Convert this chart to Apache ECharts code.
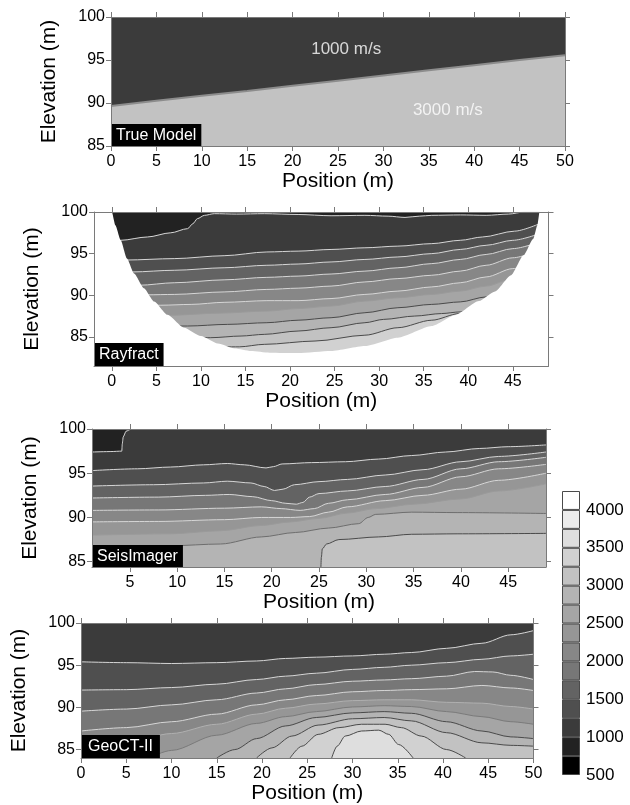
<!DOCTYPE html>
<html>
<head>
<meta charset="utf-8">
<script src="https://cdn.jsdelivr.net/npm/echarts@6/dist/echarts.min.js"></script>
<style>
html,body{margin:0;padding:0;background:#fff;}
#chart{width:630px;height:805px;}
</style>
</head>
<body>
<div id="chart"></div>
<script>
// ---------- colour scale (m/s) ----------
const bandLevels = [500,750,1000,1250,1500,1750,2000,2250,2500,2750,3000,3250,3500,3750,4000];
const bandColors = ['#000000','#222222','#3b3b3b','#4f4f4f','#636363','#777777','#878787','#969696','#a5a5a5','#b4b4b4','#c2c2c2','#d1d1d1','#dedede','#ececec','#ffffff'];
const bandStep = 250;
const cbarLabels = [500,1000,1500,2000,2500,3000,3500,4000];

// ---------- tick labels ----------
const ticks0to50 = [0,5,10,15,20,25,30,35,40,45,50];
const ticks0to45 = [0,5,10,15,20,25,30,35,40,45];
const ticks5to45 = [5,10,15,20,25,30,35,40,45];
const elevTicks = [85,90,95,100];

// ---------- True Model ----------
const tmPos = [0,5,10,15,20,25,30,35,40,45,50];
const tmInterface = [89.65,90.25,90.85,91.4,92.0,92.6,93.2,93.8,94.4,95.0,95.55];
const tmVelTop = 1000, tmVelBottom = 3000;
const tmLabelPos = [[25.9,96.2],[37.1,89.1]];
const tmLabelText = ['1000 m/s','3000 m/s'];

// ---------- Rayfract (contours: [position, elevation]) ----------
const rfCoverage = [[0,100],[48,100]];
const rfBoundary = [[-2,100],[0,100],[0.4,98.4],[1.0,96.6],[1.7,94.4],[2.5,92.6],[3.6,90.85],[4.75,89.25],[6.25,87.65],[8.1,86.1],[10.0,85.1],[11.9,84.2],[13.8,83.6],[15.6,83.3],[17.7,83.1],[20.9,83.05],[24.6,83.3],[28.4,83.9],[32.1,84.9],[35.9,86.3],[38.5,87.6],[41.2,89.3],[43,90.45],[44.8,92.4],[46.2,94.8],[47.3,96.8],[47.75,98.4],[48.0,100],[49,100]];
const rf1000 = [[0,96.6],[1.0,96.6],[4.0,97.0],[6.6,97.5],[8.5,98.0],[9.1,98.6],[9.6,99.2],[10.4,99.6],[11.5,99.8],[14,99.75],[17.1,99.8],[20.9,99.7],[24.6,99.55],[28.4,99.6],[31,99.5],[32.9,99.35],[34.5,99.5],[35.9,99.6],[39.1,99.65],[42,99.6],[44.5,99.75],[46.3,100],[48,100]];
const rf1250 = [[0,94.2],[1.56,94.23],[7.0,94.4],[12.6,94.75],[17.4,95.2],[20.9,95.3],[24.6,95.5],[28.4,95.7],[32.1,95.9],[35.9,96.2],[39.1,96.6],[41.6,97.0],[45.2,97.7],[48,98.6]];
const rf1500 = [[0,92.8],[2.3,92.8],[7.0,93.0],[12.6,93.3],[17.4,93.6],[20.9,93.75],[24.6,94.0],[28.4,94.3],[32.1,94.6],[35.9,95.0],[39.1,95.5],[42,96.0],[45,96.6],[48,97.4]];
const rf1750 = [[0,91.2],[3.06,91.2],[7.0,91.5],[12.6,91.85],[17.4,92.15],[20.9,92.3],[24.6,92.55],[28.4,92.9],[32.1,93.3],[35.9,93.8],[39.1,94.3],[42,94.9],[45,95.6],[48,96.4]];
const rf2000 = [[0,90.05],[4.0,90.05],[7.0,90.1],[12.6,90.4],[17.4,90.7],[20.9,90.85],[24.6,91.1],[28.4,91.6],[32.1,92.0],[35.9,92.4],[39.1,92.9],[42,93.6],[45,94.5],[48,95.4]];
const rf2250 = [[0,88.8],[5.5,88.8],[8.9,88.9],[12.6,89.15],[17.4,89.35],[20.9,89.35],[24.6,89.6],[28.4,90.1],[32.1,90.5],[35.9,91.0],[39.1,91.5],[42,92.2],[45,93.2],[48,94.3]];
const rf2500 = [[0,87.6],[6.6,87.6],[12,87.85],[17.4,88.1],[20.9,88.4],[24.6,88.7],[28.4,89.3],[32.1,89.7],[35.9,90.1],[39.1,90.5],[42,91.1],[45,92.0],[48,93.0]];
const rf2750 = [[0,86.3],[8.5,86.3],[13,86.5],[17.4,86.7],[20.9,87.0],[24.6,87.3],[28.4,87.9],[32.1,88.5],[35.9,88.9],[39.1,89.2],[42,89.8],[45,90.6],[48,91.5]];
const rf3000 = [[0,84.9],[11.1,84.9],[14.5,85.1],[17.1,85.3],[20.9,85.7],[24.6,86.1],[28.4,86.7],[30.5,87.1],[34,87.5],[37,87.8],[39.1,88.0],[42,88.6],[48,89.5]];
const rf3250 = [[0,83.8],[14.3,83.8],[17.1,84.1],[22.8,84.5],[28.4,85.2],[32.1,86.1],[35.9,87.0],[39,87.8],[48,88.8]];

// ---------- SeisImager ----------
const siPocket1000 = [[1,97.4],[3,97.45],[4.15,97.5],[4.2,98.3],[4.3,99.1],[4.6,99.75],[5.1,100]];
const si1250 = [[1,95.3],[5.8,95.5],[9.3,95.7],[12.8,95.95],[15.3,96.1],[17.1,95.95],[19.4,95.6],[20.2,95.75],[21.1,96.05],[24.2,96.2],[27.8,96.3],[31.3,96.6],[34.8,97.0],[38.4,97.4],[42,97.8],[45,98.0],[49,98.2]];
const si1500 = [[1,93.55],[7.5,93.7],[12.8,93.9],[15.3,94.1],[17.8,93.9],[19.2,93.5],[20.3,93.05],[21.2,93.2],[22.4,93.7],[25,94.05],[28,94.3],[32,94.8],[36,95.4],[40,96.3],[44,96.9],[49,97.4]];
const si1750 = [[1,92.2],[8,92.3],[13,92.5],[15.5,92.6],[18,92.35],[20,91.9],[21.5,91.6],[22.6,91.5],[23.3,91.7],[24,92.3],[25,92.7],[28,93.0],[32,93.5],[36,94.3],[40,95.5],[44,96.3],[49,96.8]];
const si2000 = [[1,90.8],[8,90.85],[15,91.05],[18.9,91.2],[21,91.0],[23,90.8],[24.5,91.0],[26,91.6],[28,92.0],[32,92.6],[36,93.4],[40,94.6],[44,95.5],[49,96.0]];
const si2250 = [[1,89.5],[8,89.55],[15,89.75],[18.9,90.0],[22,90.0],[24,90.1],[26,90.6],[28,91.2],[32,91.9],[36,92.5],[40,93.2],[44,94.2],[49,95.0]];
const si2500 = [[1,88.0],[9.3,88.15],[14.6,88.5],[18.9,89.1],[22,89.5],[25,89.9],[28,90.5],[31,91.0],[35,91.5],[40,92.1],[44,93.0],[49,93.8]];
const si2750 = [[1,86.75],[9.3,86.8],[14.6,87.0],[18.9,87.8],[22.5,88.3],[26,88.8],[29.2,89.3],[30.2,90.0],[31,90.35],[34.8,90.6],[39.6,90.55],[49,90.45]];
const si3000 = [[25.2,84.3],[25.25,85.5],[25.35,86.45],[25.8,87.0],[27.1,87.5],[31.3,87.8],[34.8,88.1],[39.6,88.15],[49,88.2]];

// ---------- GeoCT-II ----------
const gc1250 = [[0,95.4],[5,95.3],[10,95.2],[15,95.3],[19.4,95.5],[22.6,95.8],[26,95.95],[30,96.1],[33.5,96.3],[36.5,96.5],[40.4,97.0],[44.3,97.6],[47.5,98.6],[50,99.1]];
const gc1500 = [[0,92.05],[5,92.1],[10,92.35],[15,92.75],[19.4,93.3],[22.6,93.7],[26,94.05],[30,94.5],[33.5,94.75],[36.5,95.0],[40.4,95.3],[44.3,95.7],[47.5,96.1],[50,96.3]];
const gc1750 = [[0,89.55],[5,89.8],[10,90.3],[15,90.9],[19.4,91.7],[22.6,92.2],[26,92.7],[30,93.1],[33.5,93.25],[36.5,93.4],[40.4,93.7],[43.5,94.25],[45.5,94.2],[47.5,93.8],[50,93.3]];
const gc2000 = [[0,87.2],[5,87.6],[10,88.3],[15,89.2],[19.4,90.3],[22.6,90.9],[26,91.4],[30,91.85],[33.5,92.0],[36.5,92.1],[40.4,92.2],[44.3,92.6],[47.5,92.3],[50,92.0]];
const gc2250 = [[0,85.0],[5,85.8],[10,86.9],[15,88.0],[19.4,89.2],[22.6,89.9],[26,90.4],[30,90.8],[33.5,90.9],[36.5,90.9],[40.4,90.6],[44.3,90.5],[47.5,90.1],[50,89.8]];
const gc2500 = [[7.5,84],[10,84.9],[15,86.7],[19.4,88.1],[22.6,88.9],[26,89.5],[30,90.05],[33.5,90.2],[36.5,90.1],[40.4,89.5],[44.3,88.9],[47.5,88.3],[50,88.0]];
const gc2750 = [[15,84],[17,85.0],[19.4,86.3],[22.6,87.8],[26,88.8],[30,89.35],[33.5,89.5],[36.5,89.3],[40.4,88.3],[44.3,87.2],[47.5,86.5],[50,86.3]];
const gc3000 = [[19.4,84],[21.1,85.2],[23.3,86.6],[26.2,87.9],[30,88.65],[33.5,88.8],[36.5,88.4],[40.4,87.0],[44.3,85.8],[47.5,85.5],[50,85.4]];
const gc3250 = [[23.1,84],[24.4,85.4],[26.2,86.8],[28.5,87.6],[31,88.0],[33.6,88.0],[35.4,87.6],[37.6,86.6],[40.4,85.0],[42.5,84]];
const gc3500 = [[27.7,84],[28.3,85.4],[29.2,86.6],[31,87.2],[32.9,87.3],[34,86.8],[35.1,85.6],[36.7,84]];

// ---------- build ----------
const FONT = '"Liberation Sans", Arial, Helvetica, sans-serif';
const AX = '#7a7a7a';
const LIGHT = '#d6d6d6', MID = '#9a9a9a', DARK = '#4a4a4a';
function band(level){ return bandColors[bandLevels.indexOf(level)]; }

const panels = [
  {grid:{left:111, top:17, width:454, height:129}, x:[0,50],  y:[85,100],  xt:ticks0to50, yt:elevTicks, bg:band(tmVelTop)},
  {grid:{left:94,  top:212, width:454.5, height:154}, x:[-2,49], y:[81.5,100], xt:ticks0to45, yt:elevTicks, bg:'#ffffff'},
  {grid:{left:92,  top:429, width:454, height:138}, x:[1,49],  y:[84.4,100], xt:ticks5to45, yt:elevTicks, bg:band(1000)},
  {grid:{left:81,  top:623, width:452.5, height:135}, x:[0,50],  y:[84,100],  xt:ticks0to50, yt:elevTicks, bg:band(1000)}
];

const grids = [], xAxes = [], yAxes = [], series = [];
const lineAx = {onZero:false, lineStyle:{color:AX, width:1}};
panels.forEach((p, g) => {
  grids.push(Object.assign({show:true, backgroundColor:p.bg, borderWidth:0, containLabel:false, outerBoundsMode:'none'}, p.grid));
  xAxes.push({type:'value', gridIndex:g, min:p.x[0], max:p.x[1], position:'bottom', z:6,
    name:'Position (m)', nameLocation:'middle', nameGap:25,
    nameTextStyle:{fontSize:21, color:'#000', fontFamily:FONT},
    axisLine:lineAx, axisTick:{length:5, customValues:p.xt, lineStyle:{color:AX}},
    axisLabel:{customValues:p.xt, fontSize:16, color:'#000', margin:8, fontFamily:FONT},
    splitLine:{show:false}});
  xAxes.push({type:'value', gridIndex:g, min:p.x[0], max:p.x[1], position:'top', z:6,
    axisLine:lineAx, axisTick:{length:5, customValues:p.xt, lineStyle:{color:AX}},
    axisLabel:{show:false}, splitLine:{show:false}});
  yAxes.push({type:'value', gridIndex:g, min:p.y[0], max:p.y[1], position:'left', z:6,
    name:'Elevation (m)', nameLocation:'middle', nameGap:51,
    nameTextStyle:{fontSize:21, color:'#000', fontFamily:FONT},
    axisLine:lineAx, axisTick:{length:5, customValues:p.yt, lineStyle:{color:AX}},
    axisLabel:{customValues:p.yt, fontSize:16, color:'#000', margin:6, fontFamily:FONT},
    splitLine:{show:false}});
  yAxes.push({type:'value', gridIndex:g, min:p.y[0], max:p.y[1], position:'right', z:6,
    axisLine:lineAx, axisTick:{length:5, customValues:p.yt, lineStyle:{color:AX}},
    axisLabel:{show:false}, splitLine:{show:false}});
});

function area(g, data, fill, lineColor, lineWidth, origin, smooth, z){
  return {type:'line', xAxisIndex:2*g, yAxisIndex:2*g, data:data, symbol:'none', z: z || 2,
    smooth: smooth === undefined ? 0.3 : smooth, smoothMonotone:'x', silent:true, animation:false, clip:true,
    lineStyle:{color:lineColor || fill, width: lineWidth === undefined ? 1 : lineWidth},
    areaStyle:{origin: origin || 'start', color:fill, opacity:1}};
}

// Panel 0: True Model
series.push(area(0, tmPos.map((x,i)=>[x, tmInterface[i]]), band(tmVelBottom), '#8c8c8c', 2, 'start', false));
series.push({type:'scatter', xAxisIndex:0, yAxisIndex:0, symbolSize:1, z:4, silent:true, animation:false,
  itemStyle:{color:'rgba(0,0,0,0)'},
  data: tmLabelPos.map((p,i)=>({value:p, name:tmLabelText[i]})),
  label:{show:true, position:'inside', formatter:'{b}', color:'#ffffff', textBorderWidth:0, fontSize:17, fontFamily:FONT}});

// Panel 1: Rayfract
series.push(area(1, rfCoverage, band(750), band(750), 0, 'start', false));
[[1000,rf1000,LIGHT],[1250,rf1250,LIGHT],[1500,rf1500,LIGHT],[1750,rf1750,LIGHT],[2000,rf2000,LIGHT],[2250,rf2250,LIGHT],
 [2500,rf2500,MID],[2750,rf2750,DARK],[3000,rf3000,DARK],[3250,rf3250,DARK]].forEach(c=>{
  series.push(area(1, c[1], band(c[0]), c[2], 1));
});
series.push(area(1, rfBoundary, '#ffffff', '#ffffff', 0, 'start', 0.2, 3));

// Panel 2: SeisImager
series.push(area(2, siPocket1000, band(750), LIGHT, 1, 'end', 0.2));
[[1250,si1250,LIGHT],[1500,si1500,LIGHT],[1750,si1750,LIGHT],[2000,si2000,LIGHT],[2250,si2250,LIGHT],
 [2500,si2500,MID],[2750,si2750,'#6e6e6e'],[3000,si3000,DARK]].forEach(c=>{
  series.push(area(2, c[1], band(c[0]), c[2], 1));
});

// Panel 3: GeoCT-II
[[1250,gc1250,LIGHT],[1500,gc1500,LIGHT],[1750,gc1750,LIGHT],[2000,gc2000,LIGHT],[2250,gc2250,'#b0b0b0'],
 [2500,gc2500,'#7a7a7a'],[2750,gc2750,DARK],[3000,gc3000,DARK],[3250,gc3250,DARK],[3500,gc3500,DARK]].forEach(c=>{
  series.push(area(3, c[1], band(c[0]), c[2], 1));
});

// Colour bar
const cbAxis = xAxes.length;
grids.push({show:false, left:562, top:491, width:18, height:284, containLabel:false, outerBoundsMode:'none'});
xAxes.push({type:'category', gridIndex:4, data:['v'], show:false});
yAxes.push({type:'value', gridIndex:4, min:bandLevels[0], max:bandLevels[bandLevels.length-1]+bandStep, position:'right',
  axisLine:{show:false, onZero:false}, axisTick:{show:false}, splitLine:{show:false},
  axisLabel:{customValues:cbarLabels, formatter:v=>String(v), fontSize:17, color:'#000', margin:6, fontFamily:FONT}});
series.push({type:'bar', xAxisIndex:cbAxis, yAxisIndex:cbAxis, stack:'cb', data:[bandLevels[0]], barWidth:'100%',
  itemStyle:{color:'rgba(0,0,0,0)'}, silent:true, animation:false});
bandLevels.forEach((lv,i)=>{
  series.push({type:'bar', xAxisIndex:cbAxis, yAxisIndex:cbAxis, stack:'cb', data:[bandStep], barWidth:'100%',
    itemStyle:{color:bandColors[i], borderColor:'#4a4a4a', borderWidth:1}, silent:true, animation:false});
});

const boxStyle = {color:'#ffffff', fontSize:16, fontWeight:'normal', fontFamily:FONT, lineHeight:17};
const titles = [
  {text:'True Model', left:111, top:124, backgroundColor:'#000', padding:[3,5,2,5], textStyle:boxStyle},
  {text:'Rayfract', left:94, top:343, backgroundColor:'#000', padding:[3,5,3,5], textStyle:boxStyle},
  {text:'SeisImager', left:92, top:545, backgroundColor:'#000', padding:[3,5,2,5], textStyle:boxStyle},
  {text:'GeoCT-II', left:81, top:735, backgroundColor:'#000', padding:[3,7,3,7], textStyle:boxStyle}
];

const chart = echarts.init(document.getElementById('chart'), null, {renderer:'canvas'});
chart.setOption({
  animation:false,
  backgroundColor:'#ffffff',
  textStyle:{fontFamily:FONT},
  title: titles,
  grid: grids,
  xAxis: xAxes,
  yAxis: yAxes,
  series: series
});
</script>
</body>
</html>
